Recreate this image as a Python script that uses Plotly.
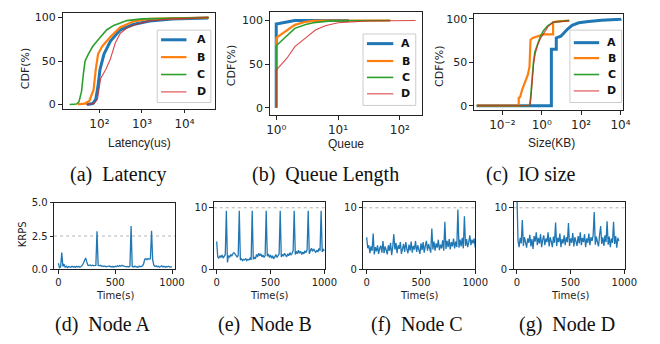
import plotly.graph_objects as go

# ------------------------------------------------------------------ data
series_names = ["A", "B", "C", "D"]

# (a) Latency CDF  (x: us, y: %)
lat_A_x = [51, 70, 82, 92, 103, 128, 182, 310, 625, 1500, 5200, 36000]
lat_A_y = [0, 1, 6, 20, 40, 58, 73, 86, 92, 96, 98.5, 99.6]
lat_B_x = [31, 45, 58, 73, 82, 93, 117, 182, 310, 625, 1500, 37000]
lat_B_y = [0, 1, 4, 17, 40, 58, 67, 78, 89, 95.5, 98.5, 100]
lat_C_x = [20, 29, 33, 38, 42, 46, 55, 70, 107, 150, 217, 440, 1000, 5000, 37000]
lat_C_y = [0, 0.5, 3, 15, 35, 50, 58, 67, 78, 86, 91, 96.5, 98.5, 99.5, 100]
lat_D_x = [48, 75, 90, 100, 107, 140, 180, 237, 310, 440, 700, 1500, 5000, 37000]
lat_D_y = [0, 1, 6, 22, 30, 40, 52, 71, 82, 88, 92, 96, 98.5, 100]

# (b) Queue length CDF
q_A_x = [1, 1, 2, 15]
q_A_y = [0, 96, 100, 100]
q_B_x = [1, 1, 2, 3, 4, 6, 70]
q_B_y = [0, 80, 95, 98.5, 99.5, 100, 100]
q_C_x = [1, 1, 2, 3, 4, 5, 7, 10, 70]
q_C_y = [0, 71, 91, 95.5, 97.5, 98.5, 99.3, 99.7, 100]
q_D_x = [1, 1, 1.5, 2, 3, 4.3, 6.2, 10, 30, 180]
q_D_y = [0, 43, 57, 70, 80, 89, 94, 97.5, 99.5, 100]

# (c) IO size CDF (KB)
io_A_x = [0.0005, 3.1, 3.1, 5.5, 5.5, 7, 9.4, 13.8, 20, 35, 76, 240, 1100, 10000, 11000]
io_A_y = [0, 0, 65, 65, 78, 79, 80, 84, 88, 92.6, 95.5, 97, 98.5, 99.5, 100]
io_B_x = [0.0005, 0.068, 0.068, 0.08, 0.1, 0.14, 0.17, 0.2, 0.24, 0.27, 0.35, 0.5, 1.0, 1.2, 3.8, 3.8, 6.0, 25]
io_B_y = [0, 0, 9, 10, 18, 26, 30, 36, 45, 76, 78, 79, 81, 82, 82, 96, 97, 98]
io_C_x = [0.0005, 0.24, 0.27, 0.32, 0.38, 0.45, 0.6, 0.8, 1.2, 2.0, 3.8, 10, 25]
io_C_y = [0, 0, 8, 30, 50, 62, 71, 78, 86, 92, 96, 97, 98]
io_D_x = [0.0005, 0.25, 0.28, 0.33, 0.39, 0.47, 0.63, 0.85, 1.3, 2.1, 3.8, 10, 25]
io_D_y = [0, 0, 7, 28, 48, 60, 70, 77, 84, 91, 96, 97, 97.5]

# (d)-(g) per-node throughput (KRPS), sampled every 10 s
sample_step_s = 10
node_a_krps = [0.45, 0.12, 0.18, 1.25, 0.2, 0.38, 0.15, 0.22, 0.12, 0.2,
               0.18, 0.14, 0.22, 0.17, 0.2, 0.13, 0.21, 0.16, 0.22, 0.15,
               0.2, 0.28, 0.45, 0.62, 0.85, 0.55, 0.3, 0.28, 0.32, 0.26,
               0.3, 0.27, 0.3, 0.28, 2.85, 0.3, 0.26, 0.3, 0.22, 0.25,
               0.2, 0.24, 0.18, 0.22, 0.2, 0.25, 0.18, 0.22, 0.2, 0.17,
               0.23, 0.19, 0.25, 0.2, 0.28, 0.22, 0.3, 0.24, 0.2, 0.22,
               0.18, 0.2, 0.16, 0.22, 3.25, 0.2, 0.17, 0.22, 0.18, 0.2,
               0.15, 0.22, 0.18, 0.2, 0.25, 0.4, 0.75, 0.78, 0.72, 0.8,
               0.76, 0.78, 2.9, 0.7, 0.3, 0.2, 0.25, 0.18, 0.22, 0.15,
               0.2, 0.25, 0.17, 0.22, 0.15, 0.2, 0.18, 0.22, 0.16, 0.2, 0.18]
node_b_krps = [4.5, 2.0, 1.8, 2.2, 1.9, 2.3, 1.8, 2.1, 2.4, 9.5,
               1.1, 2.2, 1.9, 2.4, 2.1, 2.5, 2.7, 2.5, 2.2, 2.0,
               2.2, 9.5, 1.5, 1.7, 1.4, 1.6, 1.5, 1.7, 1.4, 1.6,
               1.5, 1.8, 1.5, 9.5, 1.6, 1.9, 1.7, 2.4, 2.0, 2.6,
               2.2, 2.5, 2.0, 2.3, 1.9, 2.2, 9.5, 2.1, 2.5, 1.9,
               2.3, 1.8, 2.2, 1.7, 2.0, 2.4, 1.9, 2.2, 2.5, 9.5,
               2.0, 2.4, 2.1, 2.6, 2.2, 2.0, 2.5, 2.2, 2.7, 2.3,
               2.6, 3.0, 9.5, 2.4, 2.9, 2.5, 3.1, 2.6, 2.9, 2.4,
               2.8, 2.5, 3.0, 2.7, 3.2, 9.5, 2.5, 3.0, 3.4, 2.9,
               3.3, 3.0, 2.7, 3.1, 2.8, 3.4, 3.0, 9.5, 2.8, 3.2, 3.0]
node_c_krps = [5.2, 3.4, 3.9, 2.6, 3.7, 3.0, 5.8, 2.4, 3.6, 2.9,
               3.9, 2.5, 3.4, 3.8, 2.7, 4.6, 2.6, 3.7, 3.1, 2.4,
               3.9, 3.0, 4.3, 2.3, 3.6, 5.7, 3.2, 4.3, 2.6, 3.9,
               3.3, 4.4, 2.5, 3.6, 4.1, 2.8, 4.4, 3.3, 2.6, 4.0,
               3.0, 4.5, 2.7, 3.8, 3.2, 4.6, 2.8, 3.9, 3.3, 2.5,
               4.2, 3.1, 4.4, 2.7, 3.8, 4.6, 3.0, 4.1, 3.4, 2.7,
               6.6, 3.2, 4.5, 3.0, 4.2, 3.5, 4.8, 3.1, 4.0, 3.4,
               4.7, 3.0, 7.7, 3.3, 4.6, 3.6, 4.9, 3.2, 4.4, 3.7,
               5.0, 3.4, 4.5, 3.6, 9.7, 3.5, 4.8, 3.7, 5.1, 3.4,
               8.6, 3.8, 4.9, 3.6, 4.4, 5.5, 3.9, 4.8, 4.2, 5.0, 3.5]
node_d_krps = [12.0, 4.6, 3.6, 5.1, 4.2, 8.0, 3.8, 5.2, 4.4, 3.5,
               5.0, 4.3, 5.6, 3.7, 4.9, 3.3, 5.4, 4.5, 6.0, 3.9,
               5.1, 4.2, 5.7, 3.6, 4.8, 5.5, 3.9, 5.0, 4.4, 6.0,
               3.7, 5.2, 4.5, 3.6, 5.3, 4.3, 7.6, 3.8, 5.1, 4.4,
               5.8, 3.6, 4.9, 4.2, 5.5, 3.9, 5.2, 4.4, 7.5, 3.8,
               5.0, 4.3, 5.9, 3.7, 5.2, 4.5, 3.8, 5.4, 4.2, 6.0,
               3.9, 5.1, 4.4, 5.7, 3.6, 5.0, 4.3, 5.8, 3.9, 5.2,
               4.6, 5.5, 9.3, 4.0, 5.3, 4.4, 3.7, 5.6, 7.0, 4.1,
               5.2, 3.8, 5.5, 4.4, 7.8, 4.0, 5.3, 3.6, 5.0, 4.3,
               7.7, 4.1, 5.4, 3.5, 5.1, 4.6]

x_tick_labels_lat = ["10\u00b2", "10\u00b3", "10\u2074"]
x_tick_vals_lat = [1e2, 1e3, 1e4]
x_tick_labels_q = ["10\u2070", "10\u00b9", "10\u00b2"]
x_tick_vals_q = [1, 10, 100]
x_tick_labels_io = ["10\u207b\u00b2", "10\u2070", "10\u00b2", "10\u2074"]
x_tick_vals_io = [1e-2, 1, 1e2, 1e4]
cdf_ticks = [0, 50, 100]
time_ticks = [0, 500, 1000]
krps_a_ticks = [0, 2.5, 5]
krps_a_ticklabels = ["0.0", "2.5", "5.0"]
krps_ticks = [0, 10]
ref_lines = [2.5, 10, 10, 10]

# ------------------------------------------------------------------ style
W, H = 660, 344
colors = ["#1f77b4", "#ff7f0e", "#2ca02c", "rgba(214,39,40,0.85)"]
widths = [3.0, 2.2, 1.6, 1.1]
TICKFONT = dict(family="DejaVu Sans", size=11, color="#222")
XLOGFONT = dict(family="DejaVu Sans", size=12, color="#222")
SMALLTICK = dict(family="DejaVu Sans", size=10, color="#222")


def px_x(p):
    return p / W


def px_y(p):
    return 1 - p / H


fig = go.Figure()

top_sets = [
    ([lat_A_x, lat_B_x, lat_C_x, lat_D_x], [lat_A_y, lat_B_y, lat_C_y, lat_D_y], "x", "y"),
    ([q_A_x, q_B_x, q_C_x, q_D_x], [q_A_y, q_B_y, q_C_y, q_D_y], "x2", "y2"),
    ([io_A_x, io_B_x, io_C_x, io_D_x], [io_A_y, io_B_y, io_C_y, io_D_y], "x3", "y3"),
]
for xs_list, ys_list, xa, ya in top_sets:
    for i, name in enumerate(series_names):
        fig.add_trace(go.Scatter(
            x=xs_list[i], y=ys_list[i], mode="lines", name=name,
            line=dict(color=colors[i], width=widths[i]),
            xaxis=xa, yaxis=ya, showlegend=False,
        ))

node_series = [node_a_krps, node_b_krps, node_c_krps, node_d_krps]
for k, vals in enumerate(node_series):
    t = [j * sample_step_s for j in range(len(vals))]
    fig.add_trace(go.Scatter(
        x=t, y=vals, mode="lines", showlegend=False,
        line=dict(color="#1f77b4", width=1.3),
        xaxis="x%d" % (k + 4), yaxis="y%d" % (k + 4),
    ))

common = dict(showgrid=False, zeroline=False, showline=True, mirror=True,
              linecolor="#222", linewidth=1, ticks="outside", ticklen=3.5,
              tickwidth=1, tickcolor="#222")

layout = dict(
    width=W, height=H, margin=dict(l=0, r=0, t=0, b=0),
    paper_bgcolor="white", plot_bgcolor="white", showlegend=False,
)

# top row
layout["xaxis"] = dict(common, type="log", domain=[px_x(61), px_x(217)], range=[1.133, 4.71],
                       tickvals=x_tick_vals_lat, ticktext=x_tick_labels_lat, tickfont=XLOGFONT, anchor="y")
layout["yaxis"] = dict(common, domain=[px_y(106.5), px_y(7.5)], range=[-5, 105],
                       tickvals=cdf_ticks, tickfont=TICKFONT, anchor="x")
layout["xaxis2"] = dict(common, type="log", domain=[px_x(273.3), px_x(429.3)], range=[-0.106, 2.357],
                        tickvals=x_tick_vals_q, ticktext=x_tick_labels_q, tickfont=XLOGFONT, anchor="y2")
layout["yaxis2"] = dict(common, domain=[px_y(113), px_y(6)], range=[-8.5, 110],
                        tickvals=cdf_ticks, tickfont=TICKFONT, anchor="x2")
layout["xaxis3"] = dict(common, type="log", domain=[px_x(482.7), px_x(635)], range=[-3.44, 4.11],
                        tickvals=x_tick_vals_io, ticktext=x_tick_labels_io, tickfont=XLOGFONT, anchor="y3")
layout["yaxis3"] = dict(common, domain=[px_y(107.8), px_y(8.8)], range=[-5, 105],
                        tickvals=cdf_ticks, tickfont=TICKFONT, anchor="x3")

# bottom row
bottom_dom = [(52.3, 176.7, [-38, 1030], 204), (216, 330, [-27, 1006], 202.7),
              (369.3, 484, [-30.5, 1000], 202.7), (523.3, 637.7, [-31, 1009], 202.7)]
for k, (l, r, xr, top) in enumerate(bottom_dom):
    n = k + 4
    layout["xaxis%d" % n] = dict(common, domain=[px_x(l), px_x(r)], range=xr, tickvals=time_ticks,
                                 tickfont=SMALLTICK, anchor="y%d" % n)
    if k == 0:
        ydict = dict(range=[0, 5], tickvals=krps_a_ticks, ticktext=krps_a_ticklabels)
    else:
        ydict = dict(range=[0, 11], tickvals=krps_ticks)
    layout["yaxis%d" % n] = dict(common, domain=[px_y(272.7), px_y(top)], tickfont=SMALLTICK,
                                 anchor="x%d" % n, **ydict)

shapes = []
for k, yv in enumerate(ref_lines):
    n = k + 4
    shapes.append(dict(type="line", xref="x%d domain" % n, x0=0, x1=1, yref="y%d" % n, y0=yv, y1=yv,
                       line=dict(color="#b5b5b5", width=1, dash="dot"), layer="below"))

ann = []


def add_text(text, x, y, family, size, angle=0, color="#222", weight="normal"):
    ann.append(dict(text=text, x=px_x(x), y=px_y(y), xref="paper", yref="paper", showarrow=False,
                    xanchor="center", yanchor="middle", textangle=angle,
                    font=dict(family=family, size=size, color=color, weight=weight)))


# legends (box left, top, right, bottom; key line x0, x1; label x; entry rows) in pixels
legend_boxes = [
    (158, 25, 213, 100, 162, 188, 203, [35, 53, 71, 89]),
    (369, 29, 423, 103, 373, 400, 413, [39, 57, 74, 91]),
    (581, 25, 634, 100, 585, 611, 624, [38, 54, 71, 88]),
]
for (bl, bt, br, bb, lx0, lx1, tx, rows) in legend_boxes:
    shapes.append(dict(type="rect", xref="paper", yref="paper", x0=px_x(bl), x1=px_x(br),
                       y0=px_y(bb), y1=px_y(bt), fillcolor="white",
                       line=dict(color="#cccccc", width=1), layer="above"))
    for i, name in enumerate(series_names):
        shapes.append(dict(type="line", xref="paper", yref="paper", x0=px_x(lx0), x1=px_x(lx1),
                           y0=px_y(rows[i]), y1=px_y(rows[i]),
                           line=dict(color=colors[i], width=widths[i]), layer="above"))
        add_text(name, tx, rows[i], "DejaVu Sans", 11, color="#111", weight="bold")
layout["shapes"] = shapes

add_text("Latency(us)", 140, 142, "Liberation Sans", 12)
add_text("Queue", 352, 143, "Liberation Sans", 12)
add_text("Size(KB)", 562, 142, "Liberation Sans", 12)
for xc, yc in [(23, 64), (235, 61), (448, 62)]:
    add_text("CDF(%)", xc, yc, "DejaVu Sans", 11, angle=-90)
add_text("KRPS", 20, 237, "DejaVu Sans", 10, angle=-90)
for xc in [115, 273, 427, 582]:
    add_text("Time(s)", xc, 300, "DejaVu Sans", 10)
captions = [("(a)\u2002Latency", 118, 175), ("(b)\u2002Queue Length", 330, 175), ("(c)\u2002IO size", 541, 175),
            ("(d)\u2002Node A", 102, 330), ("(e)\u2002Node B", 269, 330), ("(f)\u2002Node C", 424, 330),
            ("(g)\u2002Node D", 578, 330)]
for txt, xc, yc in captions:
    add_text(txt, xc, yc, "Liberation Serif", 20, color="#111")
layout["annotations"] = ann

fig.update_layout(**layout)
fig.write_html("out.html", config={"displayModeBar": False, "staticPlot": True},
               post_script="document.body.style.margin='0px';document.body.style.padding='0px';")
